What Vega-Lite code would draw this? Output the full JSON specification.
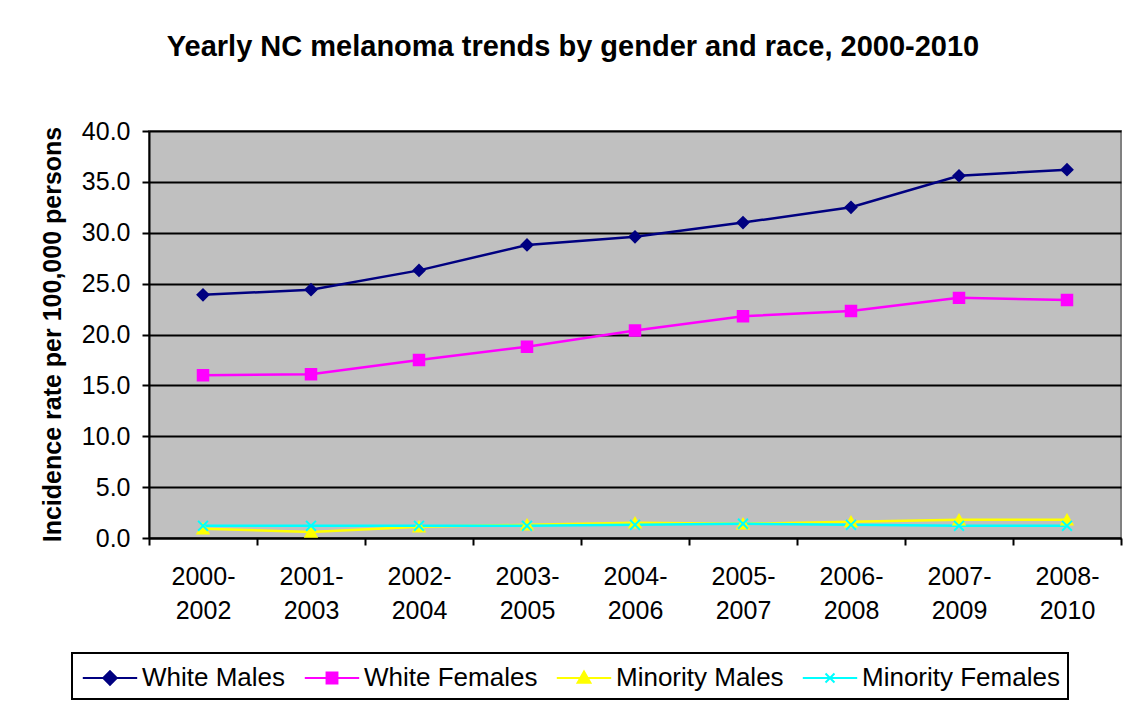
{
  "$schema": "https://vega.github.io/schema/vega-lite/v6.json",
  "width": 972,
  "height": 407,
  "autosize": {"type": "none"},
  "padding": {"left": 149, "top": 131, "right": 7, "bottom": 168},
  "background": "white",
  "title": {
    "text": "Yearly NC melanoma trends by gender and race, 2000-2010",
    "font": "Liberation Sans",
    "fontSize": 29,
    "fontWeight": "bold",
    "color": "black",
    "anchor": "middle",
    "dx": -62,
    "offset": 34,
    "baseline": "alphabetic"
  },
  "data": {
    "values": [
      {"series": "White Males", "period": "2000-2002", "value": 23.9},
      {"series": "White Males", "period": "2001-2003", "value": 24.4},
      {"series": "White Males", "period": "2002-2004", "value": 26.3},
      {"series": "White Males", "period": "2003-2005", "value": 28.8},
      {"series": "White Males", "period": "2004-2006", "value": 29.6},
      {"series": "White Males", "period": "2005-2007", "value": 31.0},
      {"series": "White Males", "period": "2006-2008", "value": 32.5},
      {"series": "White Males", "period": "2007-2009", "value": 35.6},
      {"series": "White Males", "period": "2008-2010", "value": 36.2},
      {"series": "White Females", "period": "2000-2002", "value": 16.0},
      {"series": "White Females", "period": "2001-2003", "value": 16.1},
      {"series": "White Females", "period": "2002-2004", "value": 17.5},
      {"series": "White Females", "period": "2003-2005", "value": 18.8},
      {"series": "White Females", "period": "2004-2006", "value": 20.4},
      {"series": "White Females", "period": "2005-2007", "value": 21.8},
      {"series": "White Females", "period": "2006-2008", "value": 22.3},
      {"series": "White Females", "period": "2007-2009", "value": 23.6},
      {"series": "White Females", "period": "2008-2010", "value": 23.4},
      {"series": "Minority Males", "period": "2000-2002", "value": 0.9},
      {"series": "Minority Males", "period": "2001-2003", "value": 0.6},
      {"series": "Minority Males", "period": "2002-2004", "value": 1.1},
      {"series": "Minority Males", "period": "2003-2005", "value": 1.3},
      {"series": "Minority Males", "period": "2004-2006", "value": 1.5},
      {"series": "Minority Males", "period": "2005-2007", "value": 1.4},
      {"series": "Minority Males", "period": "2006-2008", "value": 1.6},
      {"series": "Minority Males", "period": "2007-2009", "value": 1.8},
      {"series": "Minority Males", "period": "2008-2010", "value": 1.8},
      {"series": "Minority Females", "period": "2000-2002", "value": 1.2},
      {"series": "Minority Females", "period": "2001-2003", "value": 1.2},
      {"series": "Minority Females", "period": "2002-2004", "value": 1.2},
      {"series": "Minority Females", "period": "2003-2005", "value": 1.2},
      {"series": "Minority Females", "period": "2004-2006", "value": 1.3},
      {"series": "Minority Females", "period": "2005-2007", "value": 1.4},
      {"series": "Minority Females", "period": "2006-2008", "value": 1.3},
      {"series": "Minority Females", "period": "2007-2009", "value": 1.2},
      {"series": "Minority Females", "period": "2008-2010", "value": 1.2}
    ]
  },
  "encoding": {
    "x": {
      "field": "period",
      "type": "ordinal",
      "sort": null,
      "scale": {"type": "band", "paddingInner": 0, "paddingOuter": 0},
      "axis": {
        "title": null,
        "labelAngle": 0,
        "labelExpr": "[slice(datum.label, 0, 5), slice(datum.label, 5)]",
        "labelFont": "Liberation Sans",
        "labelFontSize": 25,
        "labelColor": "black",
        "labelLineHeight": 34,
        "labelPadding": 19,
        "tickBand": "extent",
        "tickSize": 7,
        "tickWidth": 2,
        "tickColor": "black",
        "domainColor": "black",
        "domainWidth": 2,
        "grid": false
      }
    },
    "y": {
      "field": "value",
      "type": "quantitative",
      "scale": {"domain": [0, 40], "nice": false},
      "axis": {
        "title": "Incidence rate per 100,000 persons",
        "titleFont": "Liberation Sans",
        "titleFontSize": 25,
        "titleFontWeight": "bold",
        "titleColor": "black",
        "titleAngle": -90,
        "titleX": -97,
        "titleY": 203,
        "titleAlign": "center",
        "titleBaseline": "middle",
        "values": [0, 5, 10, 15, 20, 25, 30, 35, 40],
        "format": ".1f",
        "labelFont": "Liberation Sans",
        "labelFontSize": 25,
        "labelColor": "black",
        "labelPadding": 12,
        "tickSize": 7,
        "tickWidth": 2,
        "tickColor": "black",
        "domainColor": "black",
        "domainWidth": 2,
        "grid": true,
        "gridColor": "black",
        "gridWidth": 2,
        "gridOpacity": 1
      }
    },
    "color": {
      "field": "series",
      "type": "nominal",
      "scale": {
        "domain": ["White Males", "White Females", "Minority Males", "Minority Females"],
        "range": ["#000080", "#FF00FF", "#FFFF00", "#00FFFF"]
      },
      "legend": {
        "orient": "none",
        "legendX": -77,
        "legendY": 522,
        "direction": "horizontal",
        "columns": 4,
        "title": null,
        "labelFont": "Liberation Sans",
        "labelFontSize": 26,
        "labelColor": "black",
        "labelLimit": 400,
        "labelOffset": 15,
        "symbolOffset": 13,
        "symbolSize": 1024,
        "symbolStrokeWidth": 2,
        "columnPadding": 14,
        "padding": 8,
        "strokeColor": "black",
        "fillColor": "white",
        "encode": {
          "legend": {"update": {"strokeWidth": {"value": 2}}},
          "symbols": {
            "update": {
              "shape": {"signal": "datum.value == 'White Males' ? 'M-1.7,0H1.7M0,-0.42L0.42,0L0,0.42L-0.42,0Z' : datum.value == 'White Females' ? 'M-1.7,0H1.7M-0.34,-0.34H0.34V0.34H-0.34Z' : datum.value == 'Minority Males' ? 'M-1.7,0H1.7M0,-0.4L0.4,0.3H-0.4Z' : 'M-1.7,0H1.7M-0.28,-0.28L0.28,0.28M-0.28,0.28L0.28,-0.28'"},
              "fill": {"signal": "scale('color', datum.value)"},
              "stroke": {"signal": "scale('color', datum.value)"},
              "strokeWidth": {"value": 2},
              "opacity": {"value": 1},
              "fillOpacity": {"value": 1}
            }
          }
        }
      }
    }
  },
  "layer": [
    {"mark": {"type": "line", "strokeWidth": 2.5}},
    {
      "transform": [{"filter": "datum.series == 'White Males'"}],
      "mark": {"type": "point", "shape": "diamond", "filled": true, "size": 120, "stroke": "#000080", "strokeWidth": 2, "opacity": 1}
    },
    {
      "transform": [{"filter": "datum.series == 'White Females'"}],
      "mark": {"type": "point", "shape": "square", "filled": true, "size": 110, "stroke": "#FF00FF", "strokeWidth": 2, "opacity": 1}
    },
    {
      "transform": [{"filter": "datum.series == 'Minority Males'"}],
      "mark": {"type": "point", "shape": "triangle-up", "filled": true, "size": 120, "stroke": "#FFFF00", "strokeWidth": 2, "opacity": 1}
    },
    {
      "transform": [{"filter": "datum.series == 'Minority Females'"}],
      "mark": {"type": "point", "shape": "M-0.9,-0.9L0.9,0.9M-0.9,0.9L0.9,-0.9", "filled": false, "size": 120, "strokeWidth": 2, "opacity": 1}
    }
  ],
  "config": {
    "view": {"fill": "#C0C0C0", "stroke": "#808080", "strokeWidth": 2},
    "font": "Liberation Sans"
  }
}
